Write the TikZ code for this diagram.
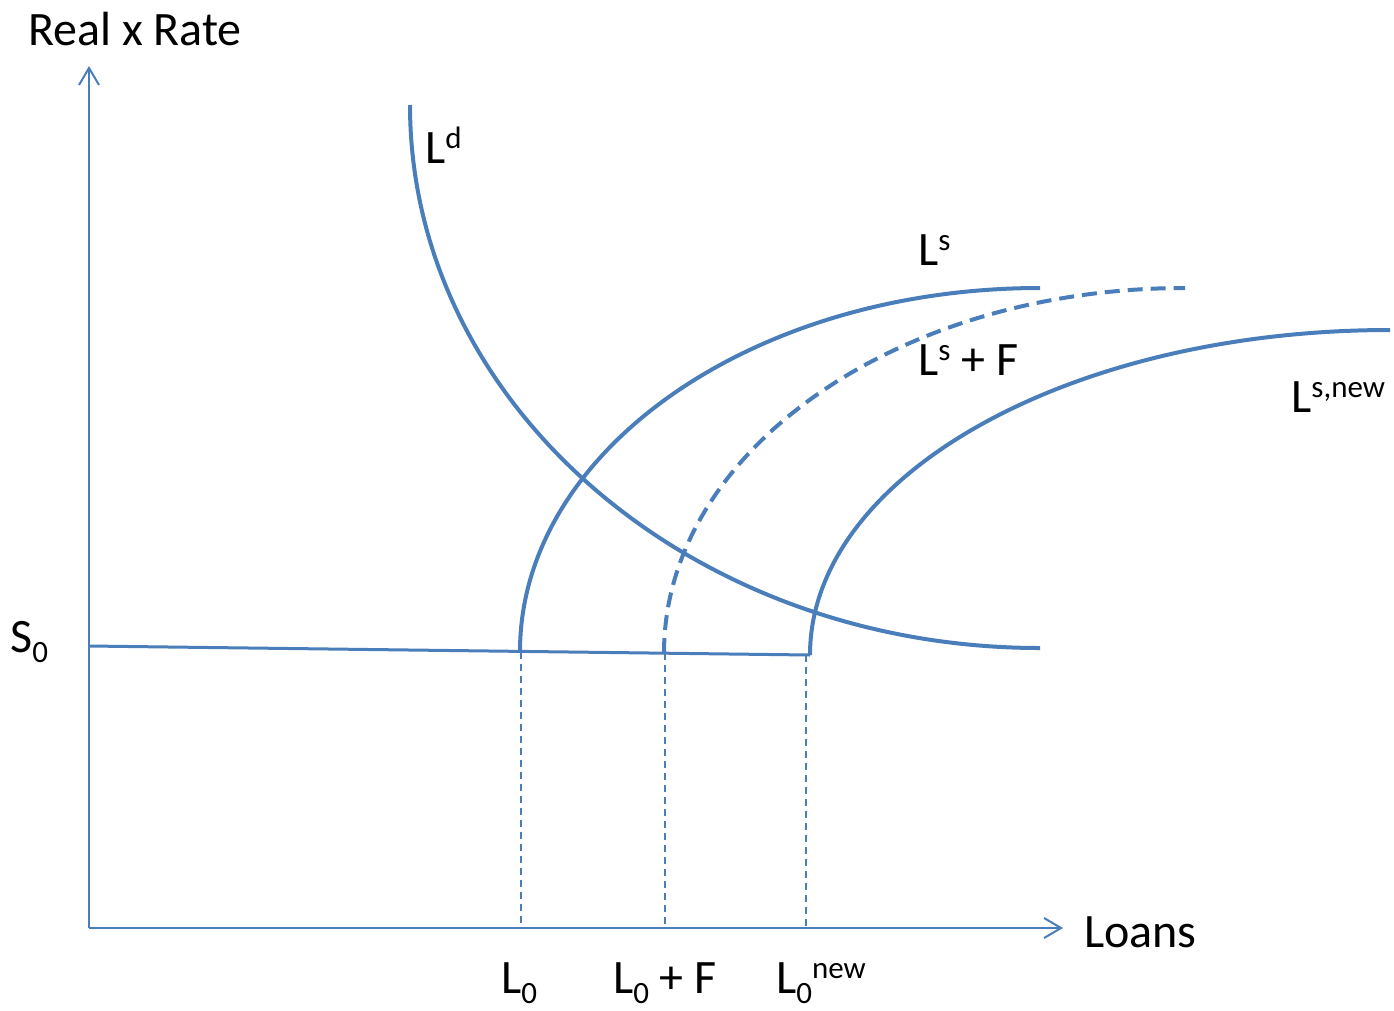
\documentclass[tikz,border=0pt]{standalone}
\usepackage{fontspec}
\setmainfont{Carlito}
\usetikzlibrary{arrows.meta}
\definecolor{cblue}{RGB}{74,126,187}
\newcommand\supx[1]{\raisebox{15pt}{\fontsize{31}{31}\selectfont #1}}
\newcommand\subx[1]{\raisebox{-10pt}{\fontsize{31}{31}\selectfont #1}}
\begin{document}
\begin{tikzpicture}[x=1pt,y=-1pt,
  axis/.style={draw=cblue,line width=2pt,-{Straight Barb[length=17pt,width=20pt,line width=2pt]}},
  curve/.style={draw=cblue,line width=4pt},
  guide/.style={draw=cblue,line width=1.6pt,dash pattern=on 7pt off 5pt},
  lbl/.style={inner sep=0pt,anchor=base west,font=\fontsize{48}{52}\selectfont}]
\useasboundingbox (0,0) rectangle (1394,1010);
% axes
\coordinate (o) at (89,928);
\coordinate (ytip) at (89,66);
\coordinate (xtip) at (1063,928);
\draw[axis] (o) -- (ytip);
\draw[axis] (o) -- (xtip);
% horizontal S0 line
\coordinate (h0) at (89,646);
\coordinate (a) at (520,651.5);
\coordinate (b) at (664,653);
\coordinate (c) at (810,655);
\draw[draw=cblue,line width=3pt] (h0) -- (c);
% L^d
\coordinate (ld0) at (410,105);
\draw[curve] (ld0) arc[start angle=180,end angle=90,x radius=630,y radius=543];
% L^s
\draw[curve] (a) arc[start angle=180,end angle=270,x radius=520,y radius=363.5];
% L^s + F
\draw[curve,dash pattern=on 15pt off 8pt] (b) arc[start angle=180,end angle=270,x radius=521,y radius=365];
% L^{s,new}
\draw[curve] (c) arc[start angle=180,end angle=270,x radius=580,y radius=325];
% guide lines
\coordinate (ga) at (521,928);
\coordinate (gb) at (665,928);
\coordinate (gc) at (806,928);
\draw[guide] (521,651.5) -- (ga);
\draw[guide] (665,653) -- (gb);
\draw[guide] (806,655) -- (gc);
% labels
\node[lbl] (ylab) at (28,45) {Real x Rate};
\node[lbl] (xlab) at (1084,947) {Loans};
\node[lbl] (s0) at (10,652) {S\subx{0}};
\node[lbl] (tld) at (425,163) {L\supx{d}};
\node[lbl] (tls) at (918,265) {L\supx{s}};
\node[lbl] (tlsf) at (918,375) {L\supx{s} + F};
\node[lbl] (tlsn) at (1291,412) {L\supx{s,new}};
\node[lbl] (t0) at (501,993) {L\subx{0}};
\node[lbl] (t0f) at (613,993) {L\subx{0} + F};
\node[lbl] (t0n) at (776,993) {L\subx{0}\supx{new}};
\end{tikzpicture}
\end{document}
